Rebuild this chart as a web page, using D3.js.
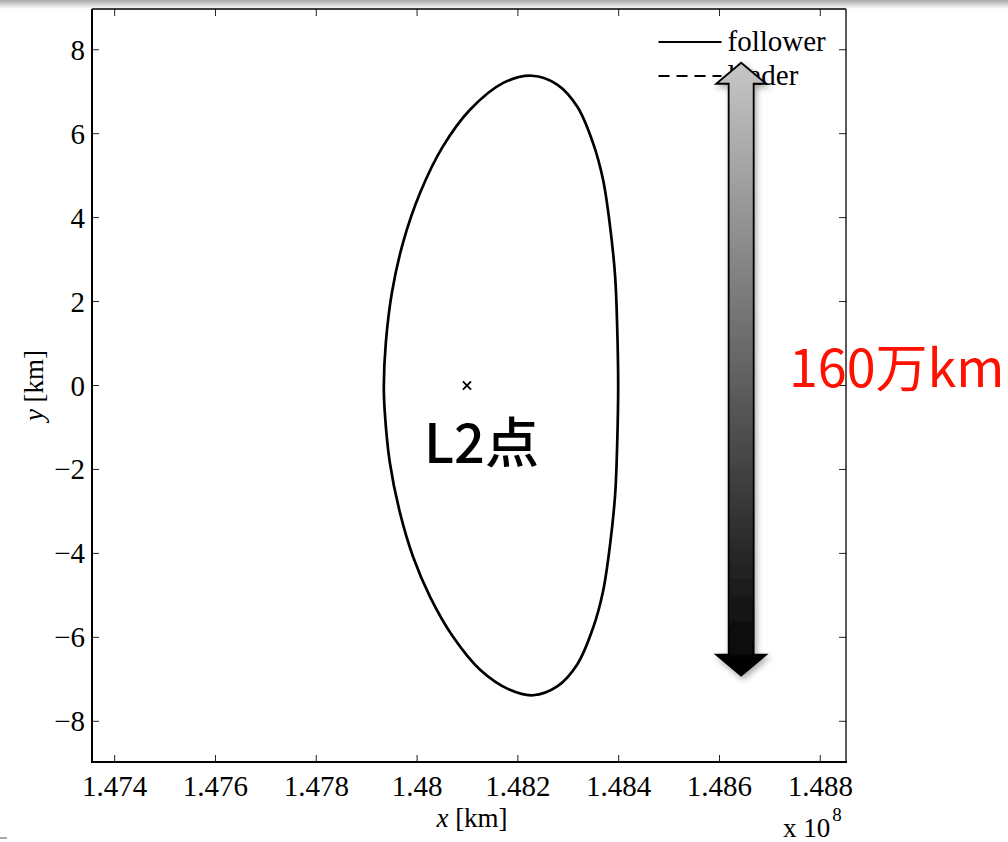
<!DOCTYPE html>
<html>
<head>
<meta charset="utf-8">
<script src="https://cdn.jsdelivr.net/npm/d3@7"></script>
<style>
  body { margin: 0; background: #fff; }
  svg { display: block; }
</style>
</head>
<body>
<div id="chart"></div>
<script>
// orbit (x in units of 1e8 km, y as on the axis)
const orbitX = [1.48399, 1.48397, 1.48393, 1.48383, 1.48369, 1.48349, 1.48318, 1.48278, 1.48228,
  1.48171, 1.48105, 1.48051, 1.48006, 1.47972, 1.47950, 1.47938, 1.47934,
  1.47936, 1.47946, 1.47966, 1.47992, 1.48026, 1.48071, 1.48125, 1.48184, 1.48230,
  1.48278, 1.48318, 1.48349, 1.48369, 1.48383, 1.48393, 1.48397];
const orbitY = [0, 1.40, 2.59, 3.78, 4.90, 5.78, 6.64, 7.17, 7.38,
  7.21, 6.57, 5.69, 4.59, 3.40, 2.21, 1.02, 0,
  -0.65, -1.84, -3.03, -4.08, -5.04, -5.98, -6.77, -7.25, -7.38,
  -7.17, -6.64, -5.78, -4.90, -3.78, -2.59, -1.40];

const l2Point = [1.48099, 0];

const xTicks = [1.474, 1.476, 1.478, 1.48, 1.482, 1.484, 1.486, 1.488];
const yTicks = [-8, -6, -4, -2, 0, 2, 4, 6, 8];
const seriesNames = ["follower", "leader"];

// set the dimensions and margins of the graph
const W = 1008, H = 842;
const margin = {top: 9, left: 92},
    width = 754,
    height = 753;

const svg = d3.select("#chart")
  .append("svg")
    .attr("width", W)
    .attr("height", H);

const defs = svg.append("defs");

// browser shadow strip at the top
const topGrad = defs.append("linearGradient").attr("id", "topgrad")
    .attr("x1", 0).attr("y1", 0).attr("x2", 0).attr("y2", 1);
topGrad.append("stop").attr("offset", 0).attr("stop-color", "#a8a8a8");
topGrad.append("stop").attr("offset", 1).attr("stop-color", "#ffffff");
svg.append("rect").attr("x", 0).attr("y", 0).attr("width", W).attr("height", 9)
    .attr("fill", "url(#topgrad)");
svg.append("line").attr("x1", 0).attr("x2", 7).attr("y1", 838).attr("y2", 838)
    .attr("stroke", "#555").attr("stroke-width", 1);

const g = svg.append("g")
    .attr("transform", `translate(${margin.left},${margin.top})`);

const x = d3.scaleLinear().domain([1.47355, 1.48851]).range([0, width]);
const y = d3.scaleLinear().domain([-8.97, 8.97]).range([height, 0]);

// ticks (inward, all four sides)
const tickLen = 7;
g.selectAll(".xtb").data(xTicks).join("line")
    .attr("x1", d => x(d)).attr("x2", d => x(d))
    .attr("y1", height).attr("y2", height - tickLen)
    .attr("stroke", "#222").attr("stroke-width", 1);
g.selectAll(".xtt").data(xTicks).join("line")
    .attr("x1", d => x(d)).attr("x2", d => x(d))
    .attr("y1", 0).attr("y2", tickLen)
    .attr("stroke", "#222").attr("stroke-width", 1);
g.selectAll(".ytl").data(yTicks).join("line")
    .attr("x1", 0).attr("x2", tickLen)
    .attr("y1", d => y(d)).attr("y2", d => y(d))
    .attr("stroke", "#222").attr("stroke-width", 1);
g.selectAll(".ytr").data(yTicks).join("line")
    .attr("x1", width).attr("x2", width - tickLen)
    .attr("y1", d => y(d)).attr("y2", d => y(d))
    .attr("stroke", "#222").attr("stroke-width", 1);

// tick labels
const serif = "'Liberation Serif', 'Times New Roman', serif";
g.selectAll(".xl").data(xTicks).join("text")
    .attr("x", d => x(d)).attr("y", height + 34)
    .attr("text-anchor", "middle")
    .style("font-family", serif).style("font-size", "29px")
    .text(d => String(+d.toFixed(3)));
g.selectAll(".yl").data(yTicks).join("text")
    .attr("x", -7).attr("y", d => y(d) + 10)
    .attr("text-anchor", "end")
    .style("font-family", serif).style("font-size", "29px")
    .text(d => d < 0 ? "\u2212" + Math.abs(d) : String(d));

// axes box
g.append("line").attr("x1", 0).attr("x2", width).attr("y1", 0).attr("y2", 0)
    .attr("stroke", "#000").attr("stroke-width", 1.3);
g.append("line").attr("x1", width).attr("x2", width).attr("y1", 0).attr("y2", height)
    .attr("stroke", "#000").attr("stroke-width", 1.3);
g.append("line").attr("x1", 0).attr("x2", 0).attr("y1", 0).attr("y2", height + 1)
    .attr("stroke", "#000").attr("stroke-width", 2);
g.append("line").attr("x1", -1).attr("x2", width + 1).attr("y1", height).attr("y2", height)
    .attr("stroke", "#000").attr("stroke-width", 2);

// axis labels
const xlab = svg.append("text")
    .attr("x", margin.left + width / 2 + 3).attr("y", 827)
    .attr("text-anchor", "middle")
    .style("font-family", serif).style("font-size", "27px");
xlab.append("tspan").style("font-style", "italic").text("x");
xlab.append("tspan").text(" [km]");

const ylab = svg.append("text")
    .attr("transform", `translate(43, ${margin.top + y(0)}) rotate(-90)`)
    .attr("text-anchor", "middle")
    .style("font-family", serif).style("font-size", "27px");
ylab.append("tspan").style("font-style", "italic").text("y");
ylab.append("tspan").text(" [km]");

const mult = svg.append("text")
    .attr("x", 783).attr("y", 837)
    .style("font-family", serif).style("font-size", "27px");
mult.append("tspan").text("x 10");
mult.append("tspan").attr("dy", -16).attr("dx", 2).style("font-size", "19px").text("8");

// orbit
const orbit = orbitX.map((d, i) => [d, orbitY[i]]);
g.append("path")
    .datum(orbit)
    .attr("d", d3.line().x(d => x(d[0])).y(d => y(d[1])).curve(d3.curveCatmullRomClosed.alpha(0.5)))
    .attr("fill", "none")
    .attr("stroke", "#000")
    .attr("stroke-width", 2.7);

// L2 marker
g.append("path")
    .attr("d", d3.symbol().type(d3.symbolTimes).size(45)())
    .attr("transform", `translate(${x(l2Point[0])},${y(l2Point[1])})`)
    .attr("fill", "none")
    .attr("stroke", "#000")
    .attr("stroke-width", 1.8);

g.append("text")
    .attr("x", x(l2Point[0]) - 43).attr("y", y(l2Point[1]) + 77)
    .style("font-family", "'Noto Sans CJK JP', sans-serif")
    .style("font-size", "54px")
    .style("font-weight", 500)
    .attr("fill", "#000")
    .text("L2点");

// legend
const legend = g.append("g").attr("transform", `translate(${x(1.48479)}, 0)`);
seriesNames.forEach((name, i) => {
  legend.append("line")
    .attr("x1", 0).attr("x2", 63)
    .attr("y1", 33 + i * 34).attr("y2", 33 + i * 34)
    .attr("stroke", "#000").attr("stroke-width", 2)
    .attr("stroke-dasharray", i === 1 ? "11,7" : null);
  legend.append("text")
    .attr("x", 69).attr("y", 42 + i * 34)
    .style("font-family", serif).style("font-size", "29px")
    .text(name);
});

// double arrow annotation
const arrGrad = defs.append("linearGradient").attr("id", "arrgrad")
    .attr("x1", 0).attr("y1", 0).attr("x2", 0).attr("y2", 1);
arrGrad.append("stop").attr("offset", 0).attr("stop-color", "#c6c6c6");
arrGrad.append("stop").attr("offset", 1).attr("stop-color", "#000000");

const shadow = defs.append("filter").attr("id", "shadow")
    .attr("x", "-50%").attr("y", "-10%").attr("width", "200%").attr("height", "120%");
shadow.append("feDropShadow").attr("dx", 2).attr("dy", 3).attr("stdDeviation", 3)
    .attr("flood-color", "#000").attr("flood-opacity", 0.35);

const ax = x(1.48643), aTop = y(7.69), aBot = y(-6.91);
const hw = 25, sw = 12.5, hl = 21;
const arrowPath = d3.path();
arrowPath.moveTo(ax, aTop);
arrowPath.lineTo(ax + hw, aTop + hl);
arrowPath.lineTo(ax + sw, aTop + hl);
arrowPath.lineTo(ax + sw, aBot - hl);
arrowPath.lineTo(ax + hw, aBot - hl);
arrowPath.lineTo(ax, aBot);
arrowPath.lineTo(ax - hw, aBot - hl);
arrowPath.lineTo(ax - sw, aBot - hl);
arrowPath.lineTo(ax - sw, aTop + hl);
arrowPath.lineTo(ax - hw, aTop + hl);
arrowPath.closePath();
g.append("path")
    .attr("d", arrowPath.toString())
    .attr("fill", "url(#arrgrad)")
    .attr("stroke", "#000")
    .attr("stroke-width", 1.8)
    .attr("filter", "url(#shadow)");

svg.append("text")
    .attr("x", 789).attr("y", 387)
    .style("font-family", "'Noto Sans CJK JP', sans-serif")
    .style("font-size", "52px")
    .attr("fill", "#ff1100")
    .text("160万km");
</script>
</body>
</html>
